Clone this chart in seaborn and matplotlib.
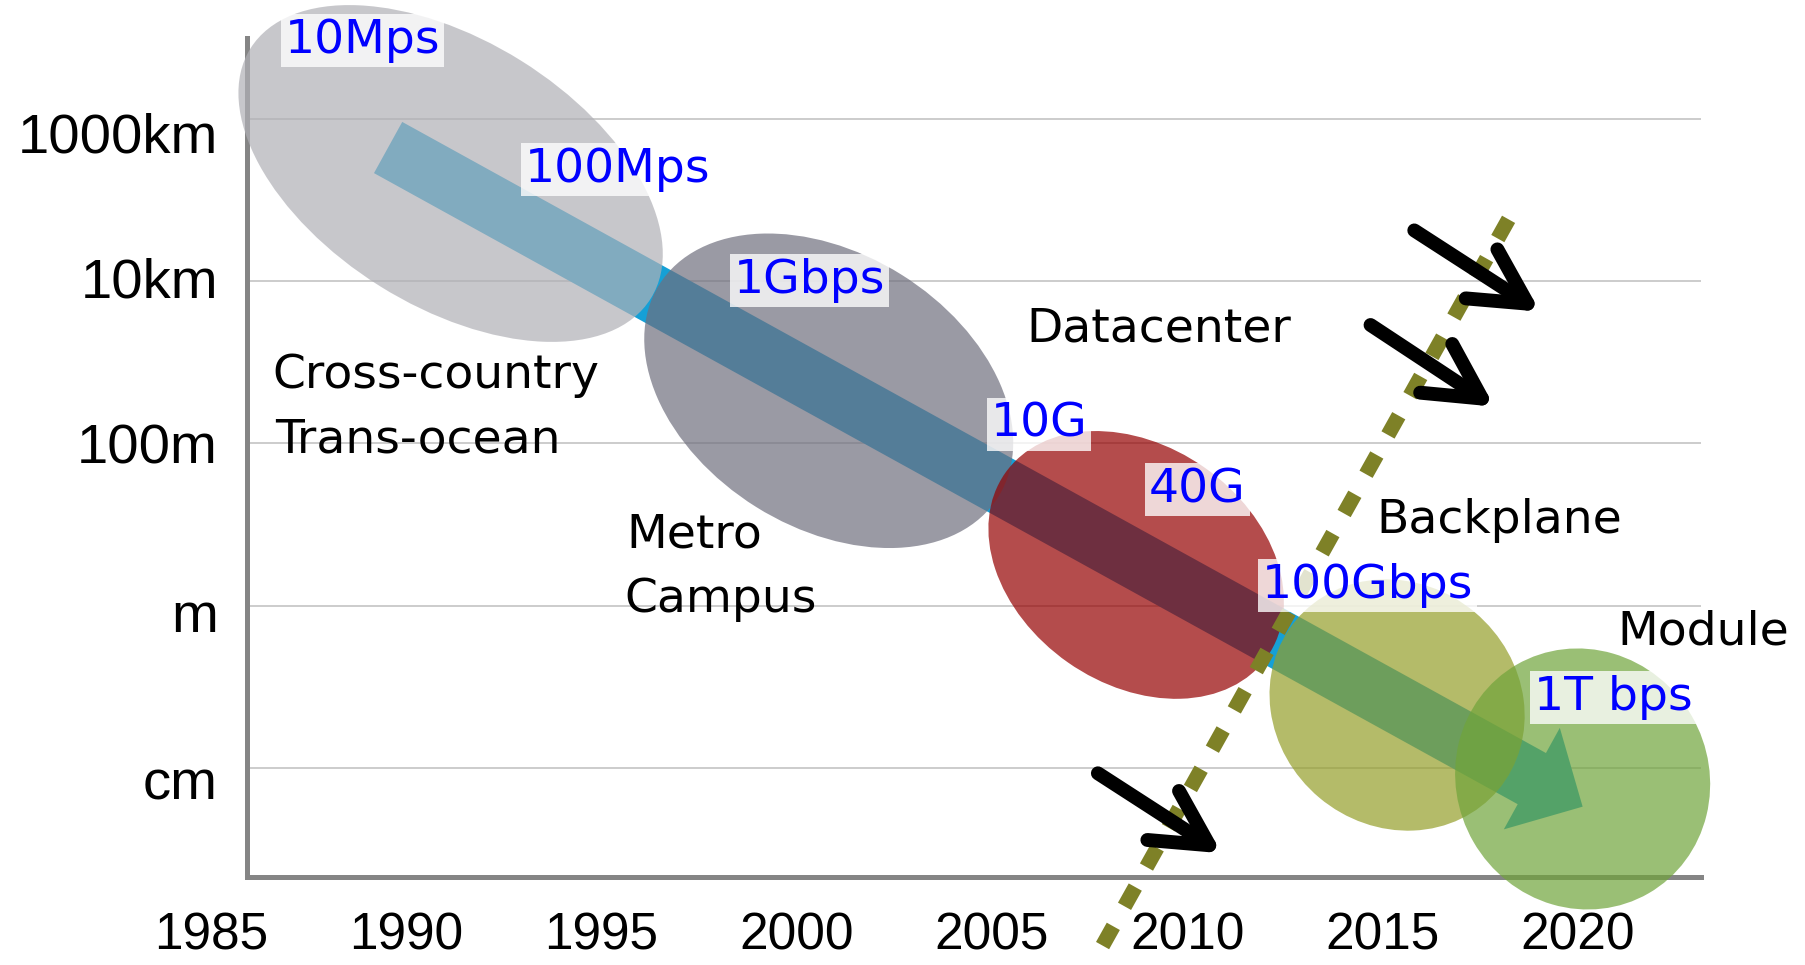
import numpy as np
import pandas as pd
import matplotlib
matplotlib.use("Agg")
import matplotlib.pyplot as plt
import matplotlib.transforms as mtransforms
from matplotlib.patches import Ellipse
import seaborn as sns

# ---------------- data ----------------
years = [1985, 1990, 1995, 2000, 2005, 2010, 2015, 2020]
dist_labels = ["1000km", "10km", "100m", "m", "cm"]
dist_log10m = [6, 4, 2, 0, -2]          # log10(distance in metres)

# application eras (centre year, centre log10 distance)
era_names = ["Cross-country", "Metro", "Datacenter", "Backplane", "Module"]
era_year = [1991.14, 2000.82, 2008.69, 2015.37, 2020.12]
era_log = [5.324, 2.648, 0.503, -1.222, -2.133]

# region captions (one entry per text line)
region_text = ["Cross-country", "Trans-ocean", "Metro", "Campus",
               "Datacenter", "Backplane", "Module"]
region_year = [1986.58, 1986.66, 1995.63, 1995.59, 2005.87, 2014.84, 2021.01]
region_log = [2.682, 1.882, 0.712, -0.076, 3.249, 0.897, -0.483]

# data-rate captions
rate_text = ["10Mps", "100Mps", "1Gbps", "10G", "40G", "100Gbps", "1T bps"]
rate_year = [1986.90, 1993.04, 1998.39, 2004.96, 2009.02, 2011.91, 2018.88]
rate_log = [6.808, 5.219, 3.852, 2.079, 1.278, 0.096, -1.283]

# overall trend arrow
trend_year = [1989.54, 2020.12]
trend_log = [5.644, -2.474]

# dotted boundary line
wall_year = [2007.83, 2018.28]
wall_log = [-4.185, 4.808]

# black push arrows
push_start_year = [2015.81, 2014.69, 2007.71]
push_start_log = [4.623, 3.458, -2.063]
push_end_year = [2019.03, 2017.86, 2010.88]
push_end_log = [3.622, 2.452, -3.048]

# ---------------- styles ----------------
era_colors = ["#b0b0b6", "#6f6f7e", "#950000", "#949e29", "#70a43a"]
era_size_px = [(472, 266, -32), (400, 274, -32), (320, 238, -35),
               (264, 242, -40), (264, 252, -60)]
band_color = "#15a0d6"
olive = "#7e8127"
grid_color = "#c8c8c8"
spine_color = "#858585"
label_font = ["DejaVu Sans"]
tick_font = ["Liberation Sans", "DejaVu Sans"]
ytick_shift_px = [-14, 3.6, 0, -6, -11]   # fine vertical nudges of y tick labels

sns.set_theme(style="white")
plt.rcParams["font.family"] = label_font

W, H = 1806, 965
fig = plt.figure(figsize=(W / 100, H / 100), dpi=100)
fig.patch.set_facecolor("white")

X0, X1 = 1984.0, 2023.15
Y0, Y1 = -3.344, 6.989
AXIS_YEAR = 1985.94
px_left, px_right, px_top, px_bottom = 171.7, 1701.0, 38.3, 877.3
ax = fig.add_axes([px_left / W, (H - px_bottom) / H,
                   (px_right - px_left) / W, (px_bottom - px_top) / H])
ax.set_autoscale_on(False)
ax.set_xlim(X0, X1)
ax.set_ylim(Y0, Y1)
ax.patch.set_alpha(0)

# grid lines
ax.hlines(dist_log10m, AXIS_YEAR, X1, color=grid_color, lw=1.3, zorder=1)

# spines
for s in ["top", "right"]:
    ax.spines[s].set_visible(False)
ax.spines["left"].set_position(("data", AXIS_YEAR))
ax.spines["bottom"].set_bounds(AXIS_YEAR, X1)
for s in ["left", "bottom"]:
    ax.spines[s].set_color(spine_color)
    ax.spines[s].set_linewidth(3.6)
    ax.spines[s].set_zorder(1.5)

# trend band (beneath the translucent eras)
ax.annotate("", xy=(trend_year[1], trend_log[1]),
            xytext=(trend_year[0], trend_log[0]),
            xycoords="data", textcoords="data", zorder=2,
            arrowprops=dict(arrowstyle="simple,head_length=0.418,head_width=0.835,tail_width=0.421",
                            mutation_scale=100, facecolor=band_color,
                            edgecolor="none", shrinkA=0, shrinkB=0))

# era ellipses
for yr, lg, (wpx, hpx, ang), col in zip(era_year, era_log, era_size_px, era_colors):
    tr = fig.dpi_scale_trans + mtransforms.ScaledTranslation(yr, lg, ax.transData)
    e = Ellipse((0, 0), wpx / 100, hpx / 100, angle=ang, transform=tr,
                facecolor=col, edgecolor="none", alpha=0.7, zorder=3, clip_on=False)
    ax.add_patch(e)

# dotted boundary
wall = pd.DataFrame({"year": wall_year, "log": wall_log})
sns.lineplot(data=wall, x="year", y="log", ax=ax, color=olive, linewidth=10.8,
             linestyle=(0, (1.47, 1.53)), dash_capstyle="butt", clip_on=False,
             zorder=4, sort=False, estimator=None)

# black push arrows
for xs, ys, xe, ye in zip(push_start_year, push_start_log, push_end_year, push_end_log):
    ax.annotate("", xy=(xe, ye), xytext=(xs, ys), xycoords="data",
                textcoords="data", zorder=5, annotation_clip=False,
                arrowprops=dict(arrowstyle="->,head_length=0.79,head_width=0.42",
                                mutation_scale=50, color="black", lw=10,
                                shrinkA=0, shrinkB=0))

# captions
for t, x, y in zip(region_text, region_year, region_log):
    ax.text(x, y, t, fontsize=34, color="black", ha="left", va="baseline",
            zorder=6, clip_on=False)
for t, x, y in zip(rate_text, rate_year, rate_log):
    ax.text(x, y, t, fontsize=34, color="#0000ff", ha="left", va="baseline",
            zorder=6, clip_on=False,
            bbox=dict(boxstyle="square,pad=0.08", facecolor="white",
                      edgecolor="none", alpha=0.78))

# ticks and axis labels (after seaborn, which sets axis labels)
ax.set_xlabel("")
ax.set_ylabel("")
ax.set_xticks(years)
ax.set_xticklabels([str(y) for y in years], fontsize=37, family=tick_font)
ax.set_yticks(dist_log10m)
ax.set_yticklabels(dist_labels, fontsize=40.5, family=tick_font)
ax.tick_params(axis="x", length=0, pad=24.5, colors="black")
ax.tick_params(axis="y", length=0, pad=21.2, colors="black")
for tick, dy in zip(ax.yaxis.get_major_ticks(), ytick_shift_px):
    lab = tick.label1
    lab.set_transform(lab.get_transform() +
                      mtransforms.ScaledTranslation(0, dy / 100, fig.dpi_scale_trans))

ax.set_xlim(X0, X1)
ax.set_ylim(Y0, Y1)
fig.savefig("out.png", dpi=100)
